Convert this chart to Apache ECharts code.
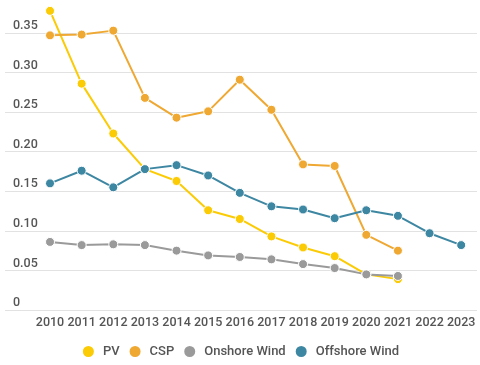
<!DOCTYPE html>
<html>
<head>
<meta charset="utf-8">
<script src="https://cdn.jsdelivr.net/npm/echarts@6/dist/echarts.min.js"></script>
<style>html,body{margin:0;padding:0;background:#fff}#c{width:480px;height:365px}</style>
</head>
<body>
<div id="c"></div>
<script>
var years = ['2010','2011','2012','2013','2014','2015','2016','2017','2018','2019','2020','2021','2022','2023'];
var pv = [0.378, 0.286, 0.223, 0.178, 0.163, 0.126, 0.115, 0.093, 0.079, 0.068, 0.045, 0.039, null, null];
var csp = [0.347, 0.348, 0.353, 0.268, 0.243, 0.251, 0.291, 0.253, 0.184, 0.182, 0.095, 0.075, null, null];
var onshore = [0.086, 0.082, 0.083, 0.082, 0.075, 0.069, 0.067, 0.064, 0.058, 0.053, 0.045, 0.043, null, null];
var offshore = [0.160, 0.176, 0.155, 0.178, 0.183, 0.170, 0.148, 0.131, 0.127, 0.116, 0.126, 0.119, 0.097, 0.082];
var seriesNames = ['PV', 'CSP', 'Onshore Wind', 'Offshore Wind'];
var colors = ['#FBCB05', '#EFA832', '#9A9A9A', '#3E87A2'];

var chart = echarts.init(document.getElementById('c'), null, {renderer: 'canvas'});
var font = 'Roboto, "Liberation Sans", sans-serif';
function mk(name, data, i) {
  return {
    name: name, type: 'line', data: data,
    xAxisIndex: 1, yAxisIndex: 1,
    clip: false, symbol: 'circle', symbolSize: 9, showSymbol: true,
    lineStyle: {width: 2, color: colors[i]},
    itemStyle: {color: colors[i], borderColor: '#fff', borderWidth: 1},
    emphasis: {disabled: true},
    animation: false
  };
}
chart.setOption({
  animation: false,
  color: colors,
  grid: [
    {left: 5, right: 3, top: 33, bottom: 55},
    {left: 34.2, right: 3, top: 33, bottom: 55}
  ],
  xAxis: [
    {type: 'value', gridIndex: 0, show: false, min: 0, max: 1},
    {type: 'category', gridIndex: 1, data: years, boundaryGap: true,
     axisLine: {show: false}, axisTick: {show: false},
     axisLabel: {color: '#555', fontFamily: font, fontSize: 12.5, fontWeight: 500, margin: 6, interval: 0}}
  ],
  yAxis: [
    {type: 'value', gridIndex: 0, min: 0, max: 0.35, interval: 0.05,
     axisLine: {show: false}, axisTick: {show: false},
     splitLine: {show: true, lineStyle: {color: '#e2e2e2', width: 1}},
     axisLabel: {inside: true, align: 'left', verticalAlign: 'bottom', lineHeight: 14, padding: [0, 0, 0, 0],
       color: '#555', fontFamily: font, fontSize: 12.5, fontWeight: 500,
       formatter: function (v) { return v === 0 ? '0' : v.toFixed(2); }}},
    {type: 'value', gridIndex: 1, min: 0, max: 0.35, interval: 0.05, show: false,
     splitLine: {show: false}}
  ],
  legend: {
    data: seriesNames.map(function (n) { return {name: n, icon: 'circle'}; }),
    left: 'center', top: 339, itemWidth: 13, itemHeight: 13, itemGap: 8,
    textStyle: {color: '#555', fontFamily: font, fontSize: 13, fontWeight: 500, padding: [0, 0, 0, 3]}
  },
  series: [mk(seriesNames[0], pv, 0), mk(seriesNames[1], csp, 1), mk(seriesNames[2], onshore, 2), mk(seriesNames[3], offshore, 3)]
});
</script>
</body>
</html>
